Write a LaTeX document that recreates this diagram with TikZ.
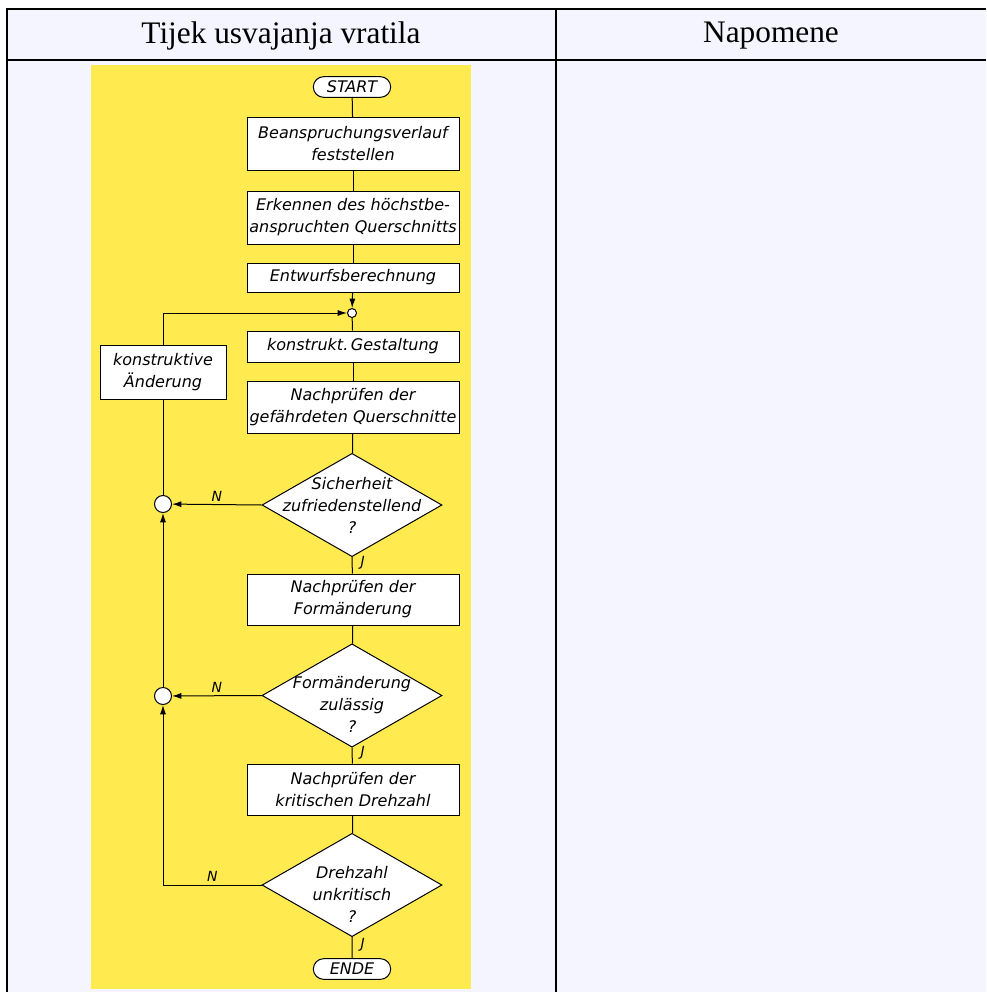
\documentclass[tikz,border=0pt]{standalone}
\usepackage{fontspec}
\setmainfont{Liberation Serif}
\newfontfamily\chartfont{DejaVu Sans}
\usetikzlibrary{shapes.geometric,shapes.misc,arrows.meta}
\definecolor{tablebg}{HTML}{F4F5FE}
\definecolor{chartbg}{HTML}{FFEB50}
\tikzset{
  every node/.style={font=\chartfont\itshape\fontsize{12}{16.5}\selectfont},
  stepbox/.style={draw,fill=white,inner sep=0pt,align=center,minimum width=159pt},
  decision/.style={draw,fill=white,diamond,inner sep=0pt,minimum width=135pt,minimum height=77.5pt},
  terminal/.style={draw,fill=white,rounded rectangle,inner sep=0pt,minimum width=58pt,minimum height=15.5pt},
  joint/.style={draw,fill=white,circle,inner sep=0pt},
  yn/.style={font=\chartfont\itshape\fontsize{10.5}{12}\selectfont,inner sep=2pt},
  head/.style={font=\fontsize{23.5}{28}\selectfont},
  flow/.style={-{Latex[length=7pt,width=4.5pt]}}
}
\begin{document}
\begin{tikzpicture}[x=0.75pt,y=-0.75pt,line width=0.75pt]
\useasboundingbox (0,0) rectangle (986,992);
\fill[white] (0,0) rectangle (986,992);
% table
\fill[tablebg] (7,9) rectangle (986,992);
\draw[line width=1.5pt] (986,9) -- (7,9) -- (7,992);
\draw[line width=1.5pt] (7,60) -- (986,60);
\draw[line width=1.5pt] (556,9) -- (556,992);
\node[head] (hflow) at (281,36) {Tijek usvajanja vratila};
\node[head] (hnote) at (771,36) {Napomene};
\fill[chartbg] (91,65) rectangle (471,989);

% flowchart
\node[terminal] (start) at (352,87) {START};
\node[stepbox,minimum height=39.75pt] (b1) at (353,144) {Beanspruchungsverlauf\\feststellen};
\node[stepbox,minimum height=39.75pt] (b2) at (353,217.5) {Erkennen des höchstbe-\\anspruchten Querschnitts};
\node[stepbox,minimum height=21.75pt] (b3) at (353,277.5) {Entwurfsberechnung};
\node[joint,minimum size=6.75pt] (j0) at (352,313) {};
\node[stepbox,minimum height=23.25pt] (b4) at (353,346.5) {konstrukt.\,Gestaltung};
\node[stepbox,minimum height=39pt] (b5) at (353,407) {Nachprüfen der\\gefährdeten Querschnitte};
\node[decision] (d1) at (352,505) {};
\node[align=center] (t1) at (d1) {Sicherheit\\zufriedenstellend\\?};
\node[stepbox,minimum height=38.25pt] (b6) at (353,599.5) {Nachprüfen der\\Formänderung};
\node[decision] (d2) at (352,695.5) {};
\node[align=center] (t2) at ([yshift=-7pt]d2) {Formänderung\\zulässig\\?};
\node[stepbox,minimum height=38.25pt] (b7) at (353,789.5) {Nachprüfen der\\kritischen Drehzahl};
\node[decision] (d3) at (352,885) {};
\node[align=center] (t3) at ([yshift=-7pt]d3) {Drehzahl\\unkritisch\\?};
\node[terminal] (ende) at (352,969) {ENDE};

\node[stepbox,minimum width=94.5pt,minimum height=40.5pt] (aend) at (163,372) {konstruktive\\Änderung};
\node[joint,minimum size=12.75pt] (c1) at (163,504) {};
\node[joint,minimum size=12.75pt] (c2) at (163,696) {};

% connectors
\draw (start) -- (b1);
\draw (b1) -- (b2);
\draw (b2) -- (b3);
\draw[flow] (b3) -- (j0);
\draw (j0) -- (b4);
\draw (b4) -- (b5);
\draw (b5) -- (d1);
\draw[flow] (d1.west) -- node[yn,above] {N} (c1);
\draw (d1.south) -- node[yn,right,xshift=4pt,yshift=2pt] {J} (b6);
\draw (b6) -- (d2);
\draw[flow] (d2.west) -- node[yn,above] {N} (c2);
\draw (d2.south) -- node[yn,right,xshift=4pt,yshift=2pt] {J} (b7);
\draw (b7) -- (d3);
\draw[flow] (d3.west) -- node[yn,above] {N} (c2 |- d3.west) -- (c2);
\draw (d3.south) -- node[yn,right,xshift=4pt,yshift=2pt] {J} (ende);
\draw[flow] (c2) -- (c1);
\draw (c1) -- (aend);
\draw[flow] (aend.north) |- (j0);
\end{tikzpicture}
\end{document}
